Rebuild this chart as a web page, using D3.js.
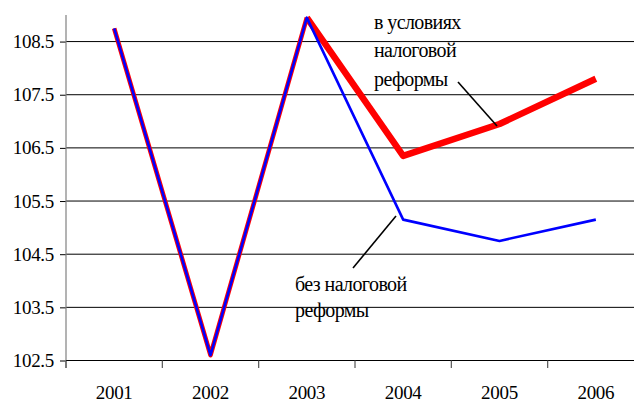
<!DOCTYPE html>
<html>
<head>
<meta charset="utf-8">
<script src="https://cdn.jsdelivr.net/npm/d3@7"></script>
<style>
  html, body { margin: 0; padding: 0; background: #fff; }
  svg { display: block; }
</style>
</head>
<body>
<svg id="chart" width="634" height="402"></svg>
<script>
// Years on the horizontal axis
const years = ["2001", "2002", "2003", "2004", "2005", "2006"];
// Index under the tax reform scenario
const withReform = [108.75, 102.6, 108.95, 106.35, 106.95, 107.8];
// Index without the tax reform
const withoutReform = [108.75, 102.6, 108.95, 105.15, 104.75, 105.15];
// Value axis ticks
const yTicks = [102.5, 103.5, 104.5, 105.5, 106.5, 107.5, 108.5];
const yDomain = [102.5, 109.0];

(function draw() {
  const FONT = "'Liberation Serif', 'DejaVu Serif', serif";
  const svg = d3.select("#chart");
  const W = 634;
  const plotL = 66, plotR = 644, plotT = 15, plotB = 360.5;

  const x = d3.scaleBand().domain(years).range([plotL, plotR]).padding(0);
  const y = d3.scaleLinear().domain(yDomain).range([plotB, plotT]);
  const cx = d => x(d) + x.bandwidth() / 2;

  const styleText = (sel, size) => sel
    .attr("font-size", null).attr("font-family", null)
    .style("font-family", FONT).style("font-size", size + "px").style("fill", "#000");

  // horizontal gridlines
  svg.append("g").selectAll("line").data(yTicks).join("line")
    .attr("x1", plotL).attr("x2", W)
    .attr("y1", d => y(d)).attr("y2", d => y(d))
    .attr("stroke", "#000").attr("stroke-width", 1);

  // value axis
  const yAxis = d3.axisLeft(y).tickValues(yTicks).tickSize(6).tickPadding(6)
    .tickFormat(d3.format(".1f"));
  const gy = svg.append("g").attr("transform", `translate(${plotL},0)`).call(yAxis);
  gy.attr("font-family", null).attr("font-size", null);
  gy.select(".domain").remove();
  gy.selectAll(".tick line").attr("stroke", "#000");
  gy.selectAll("text").call(styleText, 19).style("letter-spacing", "-0.3px");
  svg.append("line").attr("x1", plotL).attr("x2", plotL).attr("y1", plotT).attr("y2", plotB + 7.5)
    .attr("stroke", "#808080").attr("stroke-width", 1.2);

  // category axis: labels centred in bands, ticks on band boundaries
  const xAxis = d3.axisBottom(x).tickSize(0).tickPadding(0);
  const gx = svg.append("g").attr("transform", `translate(0,${plotB})`).call(xAxis);
  gx.attr("font-family", null).attr("font-size", null);
  gx.select(".domain").remove();
  gx.selectAll("text").call(styleText, 19)
    .attr("y", 38).attr("dy", null).style("letter-spacing", "-0.3px");
  svg.append("line").attr("x1", plotL).attr("x2", W).attr("y1", plotB).attr("y2", plotB)
    .attr("stroke", "#000").attr("stroke-width", 1);
  const bounds = years.map(d => x(d)).concat([x(years[years.length - 1]) + x.bandwidth()]);
  svg.append("g").selectAll("line").data(bounds).join("line")
    .attr("x1", d => d).attr("x2", d => d)
    .attr("y1", plotB).attr("y2", plotB + 7.5)
    .attr("stroke", "#555").attr("stroke-width", 1.2);

  const line = d3.line().x(d => cx(d.year)).y(d => y(d.v));
  const reformPts = years.map((yr, i) => ({ year: yr, v: withReform[i] }));
  const noReformPts = years.map((yr, i) => ({ year: yr, v: withoutReform[i] }));

  // reform series: thin over the common history, thick for the forecast
  svg.append("path").datum(reformPts.slice(0, 3)).attr("d", line)
    .attr("fill", "none").attr("stroke", "#ff0000").attr("stroke-width", 4.6)
    .attr("stroke-linejoin", "round");
  svg.append("path").datum(reformPts.slice(2)).attr("d", line)
    .attr("fill", "none").attr("stroke", "#ff0000").attr("stroke-width", 6.5)
    .attr("stroke-linejoin", "round");
  // no-reform series on top
  svg.append("path").datum(noReformPts).attr("d", line)
    .attr("fill", "none").attr("stroke", "#0000ff").attr("stroke-width", 2.6)
    .attr("stroke-linejoin", "round");

  // annotations with leader lines
  const notes = svg.append("g");
  [["в условиях", 29], ["налоговой", 57], ["реформы", 86]].forEach(([t, yy]) =>
    notes.append("text").attr("x", 374).attr("y", yy).text(t));
  [["без налоговой", 291], ["реформы", 317]].forEach(([t, yy]) =>
    notes.append("text").attr("x", 295).attr("y", yy).text(t));
  notes.selectAll("text").call(styleText, 20).style("letter-spacing", "-0.6px");
  svg.append("line").attr("x1", 458).attr("y1", 82).attr("x2", 497).attr("y2", 126)
    .attr("stroke", "#000").attr("stroke-width", 1.6);
  svg.append("line").attr("x1", 353).attr("y1", 268).attr("x2", 396).attr("y2", 216)
    .attr("stroke", "#000").attr("stroke-width", 1.6);
})();
</script>
</body>
</html>
